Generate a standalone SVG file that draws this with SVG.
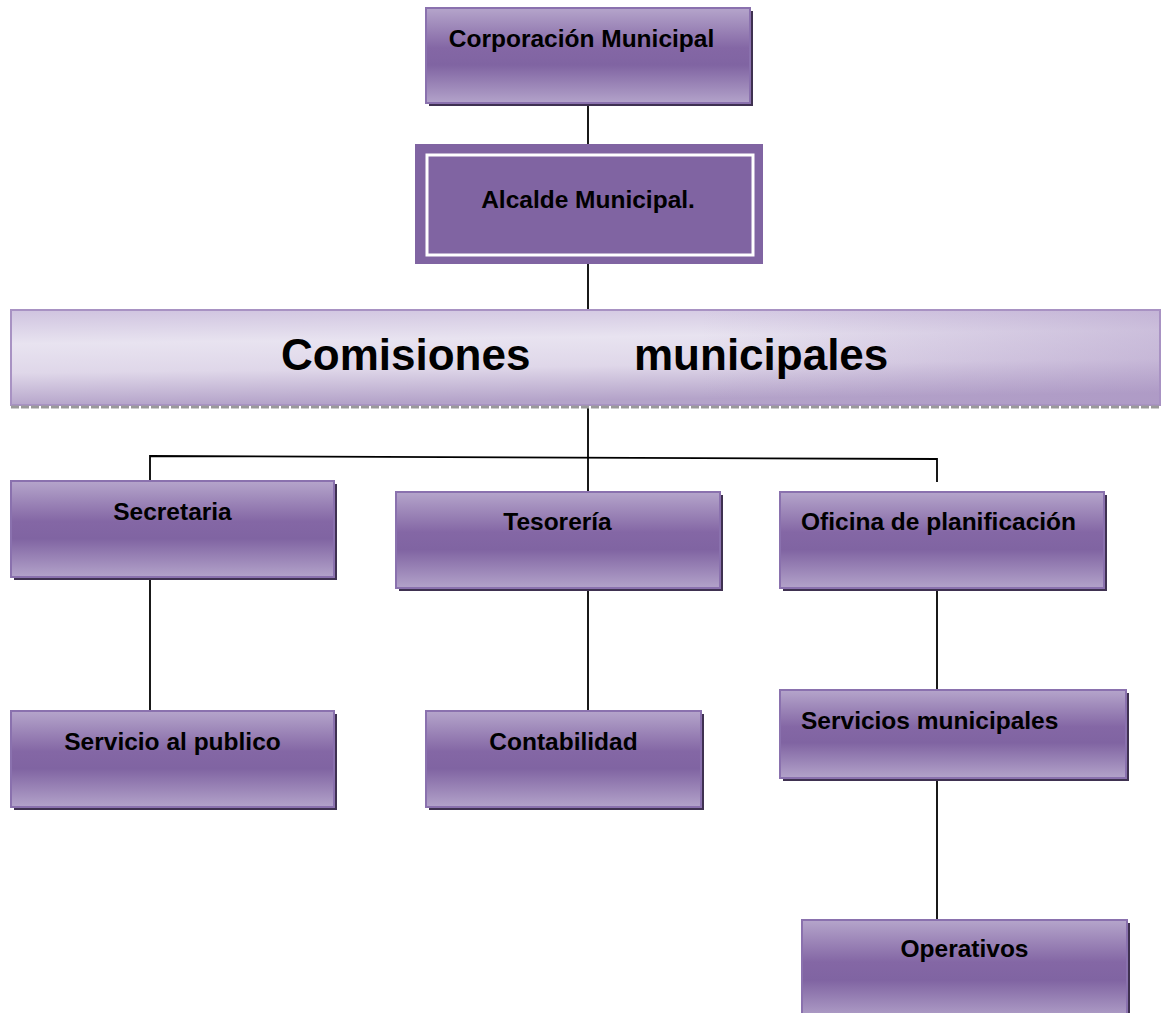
<svg xmlns="http://www.w3.org/2000/svg" width="1161" height="1013" viewBox="0 0 1161 1013">
<defs>
<linearGradient id="box" x1="0" y1="0" x2="0" y2="1">
<stop offset="0" stop-color="#b5a5cb"/>
<stop offset="0.42" stop-color="#8467a5"/>
<stop offset="0.6" stop-color="#8064a2"/>
<stop offset="1" stop-color="#b3a3ca"/>
</linearGradient>
<linearGradient id="banner" x1="0" y1="0" x2="0.15" y2="1">
<stop offset="0" stop-color="#cfc3df"/>
<stop offset="0.35" stop-color="#e8e3f0"/>
<stop offset="0.65" stop-color="#dfd7e9"/>
<stop offset="1" stop-color="#b4a3c9"/>
</linearGradient>
<linearGradient id="bannerR" x1="0" y1="0" x2="1" y2="0">
<stop offset="0.6" stop-color="#a891c2" stop-opacity="0"/>
<stop offset="1" stop-color="#a891c2" stop-opacity="0.45"/>
</linearGradient>
</defs>
<style>
.shadow{fill:#3f3151}
.box{fill:url(#box);stroke:#8a71ae;stroke-width:2}
.t{font-family:"Liberation Sans",Arial,sans-serif;font-weight:bold;font-size:24.5px;fill:#000}
.big{font-family:"Liberation Sans",Arial,sans-serif;font-weight:bold;font-size:44px;fill:#000}
.c{fill:none;stroke:#000;stroke-width:1.8}
</style>
<rect width="1161" height="1013" fill="#fff"/>
<g id="connectors">
<line class="c" x1="588" y1="103" x2="588" y2="150"/>
<line class="c" x1="588" y1="255" x2="588" y2="311"/>
<line class="c" x1="588" y1="405" x2="588" y2="493" stroke-width="2.2"/>
<polyline class="c" points="150,482 150,456 937,459 937,482"/>
<line class="c" x1="150" y1="577" x2="150" y2="711"/>
<line class="c" x1="588" y1="588" x2="588" y2="711"/>
<line class="c" x1="937" y1="588" x2="937" y2="690"/>
<line class="c" x1="937" y1="778" x2="937" y2="920"/>
</g>
<g id="corporacion">
<rect class="shadow" x="429" y="11" width="324" height="95"/>
<rect class="box" x="426" y="8" width="324" height="95"/>
<text class="t" x="581.5" y="47" text-anchor="middle">Corporación Municipal</text>
</g>
<g id="alcalde">
<rect x="415" y="144" width="348" height="120" fill="#8064a2"/>
<rect x="427" y="155" width="326" height="100" fill="#8064a2" stroke="#fff" stroke-width="3"/>
<text class="t" x="588" y="208" text-anchor="middle">Alcalde Municipal.</text>
</g>
<g id="comisiones">
<rect x="11" y="310" width="1149" height="95" fill="url(#banner)" stroke="#a892c3" stroke-width="2"/>
<rect x="11" y="310" width="1149" height="95" fill="url(#bannerR)"/>
<line x1="11" y1="407" x2="1160" y2="407" stroke="#9a9a9a" stroke-width="3" stroke-dasharray="8,2"/>
<text class="big" y="370"><tspan x="281">Comisiones</tspan><tspan x="634">municipales</tspan></text>
</g>
<g id="secretaria">
<rect class="shadow" x="14" y="484" width="323" height="96"/>
<rect class="box" x="11" y="481" width="323" height="96"/>
<text class="t" x="172.5" y="520" text-anchor="middle">Secretaria</text>
</g>
<g id="tesoreria">
<rect class="shadow" x="399" y="495" width="324" height="96"/>
<rect class="box" x="396" y="492" width="324" height="96"/>
<text class="t" x="557.5" y="530" text-anchor="middle">Tesorería</text>
</g>
<g id="oficina">
<rect class="shadow" x="783" y="495" width="324" height="96"/>
<rect class="box" x="780" y="492" width="324" height="96"/>
<text class="t" x="801" y="530">Oficina de planificación</text>
</g>
<g id="servicio-publico">
<rect class="shadow" x="14" y="714" width="323" height="96"/>
<rect class="box" x="11" y="711" width="323" height="96"/>
<text class="t" x="172.5" y="750" text-anchor="middle">Servicio al publico</text>
</g>
<g id="contabilidad">
<rect class="shadow" x="429" y="714" width="275" height="96"/>
<rect class="box" x="426" y="711" width="275" height="96"/>
<text class="t" x="563.5" y="750" text-anchor="middle">Contabilidad</text>
</g>
<g id="servicios-municipales">
<rect class="shadow" x="783" y="693" width="346" height="88"/>
<rect class="box" x="780" y="690" width="346" height="88"/>
<text class="t" x="801" y="729">Servicios municipales</text>
</g>
<g id="operativos">
<rect class="shadow" x="805" y="923" width="325" height="100"/>
<rect class="box" x="802" y="920" width="325" height="100"/>
<text class="t" x="964.5" y="957" text-anchor="middle">Operativos</text>
</g>
</svg>
